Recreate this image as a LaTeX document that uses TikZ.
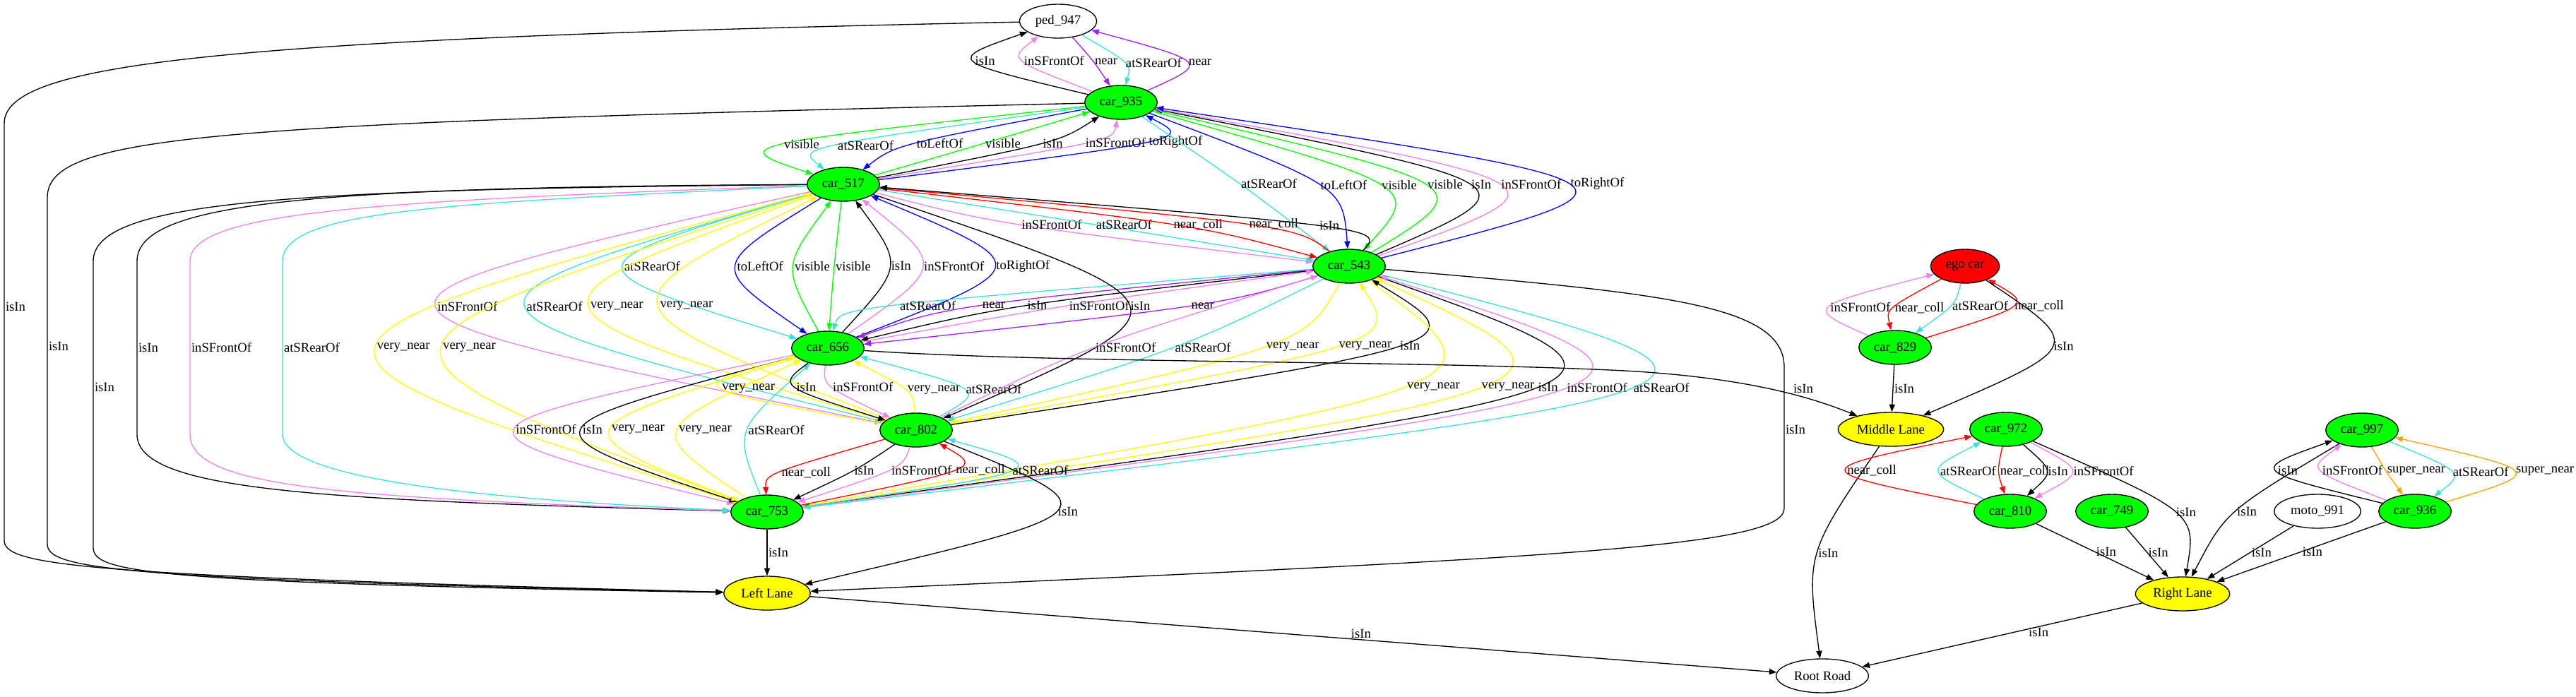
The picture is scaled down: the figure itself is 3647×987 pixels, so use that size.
\documentclass[tikz,border=0pt]{standalone}
\usepackage{fontspec}
\setmainfont{Liberation Serif}
\usetikzlibrary{shapes.geometric,arrows.meta,calc}
\definecolor{gvgreen}{HTML}{00FF00}
\definecolor{gvyellow}{HTML}{FFFF00}
\definecolor{gvturq}{HTML}{40E0D0}
\definecolor{gvviolet}{HTML}{EE82EE}
\definecolor{gvpurple}{HTML}{A020F0}
\definecolor{gvorange}{HTML}{FFA500}
\tikzset{
  obj/.style={ellipse, draw, line width=1pt, minimum height=36pt, inner sep=0pt, font=\fontsize{14}{16}\selectfont},
  car/.style={obj, fill=gvgreen, minimum width=77pt},
  lane/.style={obj, fill=gvyellow, minimum width=#1},
  thing/.style={obj, fill=white, minimum width=#1},
  lbl/.style={font=\fontsize{14}{16}\selectfont, inner sep=1pt},
  relline/.style={line width=1pt, -{Triangle[length=8pt,width=6pt]}},
  eIsIn/.style={relline, draw=black},
  eVis/.style={relline, draw=gvgreen},
  eRear/.style={relline, draw=gvturq},
  eFront/.style={relline, draw=gvviolet},
  eLeft/.style={relline, draw=blue},
  eRight/.style={relline, draw=blue},
  eNear/.style={relline, draw=gvpurple},
  eColl/.style={relline, draw=red},
  eVNear/.style={relline, draw=gvyellow},
  eSNear/.style={relline, draw=gvorange}
}
% style, from, to, x y of the label's left edge, label
\newcommand{\rel}[6]{%
  \coordinate (ta) at ($(#2)!32pt!(#4,#5)$);
  \coordinate (tb) at ($(#3)!32pt!(#4,#5)$);
  \draw[#1] (#2) .. controls ($1.3333*(#4,#5)-0.16667*(ta)-0.16667*(tb)$) .. node[lbl, pos=.5, anchor=west]{#6} (#3);
}
\begin{document}
\begin{tikzpicture}[x=0.75pt, y=-0.75pt]
  \useasboundingbox (0,0) rectangle (3647,987);
  % nodes
  \node[thing=82pt] (ped947) at (1498,30) {ped\_947};
  \node[car] (car935) at (1587,145) {car\_935};
  \node[car] (car517) at (1194,261) {car\_517};
  \node[car] (car543) at (1910,377) {car\_543};
  \node[car] (car656) at (1172,493) {car\_656};
  \node[car] (car802) at (1297,609) {car\_802};
  \node[car] (car753) at (1086,725) {car\_753};
  \node[lane=92pt] (leftlane) at (1086,840) {Left Lane};
  \node[obj, fill=red, minimum width=73pt] (egocar) at (2782,377) {ego car};
  \node[car] (car829) at (2683,492) {car\_829};
  \node[lane=112pt] (midlane) at (2677,608) {Middle Lane};
  \node[car] (car972) at (2840,608) {car\_972};
  \node[car] (car810) at (2846,724) {car\_810};
  \node[car] (car749) at (2990,724) {car\_749};
  \node[thing=92pt] (moto991) at (3281,724) {moto\_991};
  \node[car] (car936) at (3419,724) {car\_936};
  \node[car] (car997) at (3344,609) {car\_997};
  \node[lane=100pt] (rightlane) at (3090,841) {Right Lane};
  \node[thing=98pt] (rootroad) at (2580,957) {Root Road};

  % ped_947 and car_935
  \rel{eIsIn}{car935}{ped947}{1380}{87}{isIn}
  \rel{eFront}{car935}{ped947}{1448}{87}{inSFrontOf}
  \rel{eNear}{ped947}{car935}{1548}{87}{near}
  \rel{eRear}{ped947}{car935}{1592}{87}{atSRearOf}
  \rel{eNear}{car935}{ped947}{1680}{87}{near}
  % car_935 and car_517
  \rel{eVis}{car935}{car517}{1110}{203}{visible}
  \rel{eRear}{car935}{car517}{1188}{203}{atSRearOf}
  \rel{eLeft}{car935}{car517}{1298}{203}{toLeftOf}
  \rel{eVis}{car517}{car935}{1393}{203}{visible}
  \rel{eIsIn}{car517}{car935}{1473}{203}{isIn}
  \rel{eFront}{car517}{car935}{1531}{203}{inSFrontOf}
  \rel{eRight}{car517}{car935}{1622}{203}{toRightOf}
  % car_935 and car_543
  \rel{eRear}{car935}{car543}{1755}{260}{atSRearOf}
  \rel{eLeft}{car935}{car543}{1866}{260}{toLeftOf}
  \rel{eVis}{car935}{car543}{1953}{260}{visible}
  \rel{eVis}{car543}{car935}{2018}{260}{visible}
  \rel{eIsIn}{car543}{car935}{2080}{260}{isIn}
  \rel{eFront}{car543}{car935}{2122}{260}{inSFrontOf}
  \rel{eRight}{car543}{car935}{2220}{260}{toRightOf}
  % car_517 and car_543
  \rel{eFront}{car517}{car543}{1445}{318}{inSFrontOf}
  \rel{eRear}{car517}{car543}{1550}{318}{atSRearOf}
  \rel{eColl}{car517}{car543}{1659}{318}{near\_coll}
  \rel{eColl}{car543}{car517}{1764}{318}{near\_coll}
  \rel{eIsIn}{car543}{car517}{1859}{318}{isIn}
  % car_517 and car_656
  \rel{eRear}{car517}{car656}{883}{377}{atSRearOf}
  \rel{eLeft}{car517}{car656}{1041}{377}{toLeftOf}
  \rel{eVis}{car656}{car517}{1122}{377}{visible}
  \rel{eVis}{car517}{car656}{1181}{377}{visible}
  \rel{eIsIn}{car656}{car517}{1261}{377}{isIn}
  \rel{eFront}{car656}{car517}{1307}{377}{inSFrontOf}
  \rel{eRight}{car656}{car517}{1408}{377}{toRightOf}
  % car_543 and car_656
  \rel{eRear}{car543}{car656}{1277}{433}{atSRearOf}
  \rel{eNear}{car543}{car656}{1390}{433}{near}
  \rel{eIsIn}{car543}{car656}{1453}{433}{isIn}
  \rel{eFront}{car656}{car543}{1512}{433}{inSFrontOf}
  \rel{eIsIn}{car517}{car802}{1598}{433}{isIn}
  \rel{eNear}{car543}{car656}{1684}{433}{near}
  % car_517 and car_802
  \rel{eFront}{car517}{car802}{619}{434}{inSFrontOf}
  \rel{eRear}{car517}{car802}{745}{434}{atSRearOf}
  \rel{eVNear}{car517}{car802}{835}{434}{very\_near}
  \rel{eVNear}{car802}{car517}{933}{434}{very\_near}
  % long edges on the left
  \draw[eIsIn] (ped947) .. controls (300,55) and (6,90) .. (6,175) -- node[lbl, pos=.44, right]{isIn} (6,765) .. controls (6,800) and (100,815) .. (leftlane);
  \draw[eIsIn] (car935) .. controls (300,175) and (67,190) .. (67,280) -- node[lbl, pos=.43, right]{isIn} (67,770) .. controls (67,805) and (150,820) .. (leftlane);
  \draw[eIsIn] (car517) .. controls (400,268) and (132,285) .. (132,370) -- node[lbl, pos=.44, right]{isIn} (132,775) .. controls (132,810) and (200,825) .. (leftlane);
  \draw[eIsIn] (car517) .. controls (450,265) and (194,285) .. (194,370) -- node[lbl, pos=.5, right]{isIn} (194,615) .. controls (194,695) and (450,708) .. (car753);
  \draw[eFront] (car517) .. controls (520,285) and (269,300) .. (269,370) -- node[lbl, pos=.5, right]{inSFrontOf} (269,615) .. controls (269,690) and (480,705) .. (car753);
  \draw[eRear] (car517) .. controls (650,288) and (400,295) .. (400,370) -- node[lbl, pos=.5, right]{atSRearOf} (400,615) .. controls (400,680) and (700,708) .. (car753);
  \rel{eVNear}{car517}{car753}{533}{492}{very\_near}
  \rel{eVNear}{car753}{car517}{626}{492}{very\_near}
  % car_656 and car_753
  \rel{eFront}{car656}{car753}{730}{608}{inSFrontOf}
  \rel{eIsIn}{car656}{car753}{824}{608}{isIn}
  \rel{eVNear}{car656}{car753}{865}{608}{very\_near}
  \rel{eVNear}{car753}{car656}{959}{608}{very\_near}
  \rel{eRear}{car753}{car656}{1057}{608}{atSRearOf}
  % car_656 and car_802
  \rel{eVNear}{car802}{car656}{1022}{550}{very\_near}
  \rel{eIsIn}{car656}{car802}{1126}{550}{isIn}
  \rel{eFront}{car656}{car802}{1178}{550}{inSFrontOf}
  \rel{eVNear}{car802}{car656}{1282}{550}{very\_near}
  \rel{eRear}{car802}{car656}{1365}{550}{atSRearOf}
  % car_543 and car_802
  \rel{eFront}{car802}{car543}{1550}{492}{inSFrontOf}
  \rel{eRear}{car543}{car802}{1661}{492}{atSRearOf}
  \rel{eVNear}{car543}{car802}{1788}{492}{very\_near}
  \rel{eVNear}{car802}{car543}{1890}{492}{very\_near}
  \rel{eIsIn}{car802}{car543}{1978}{492}{isIn}
  % car_543 and car_753
  \rel{eVNear}{car543}{car753}{1988}{550}{very\_near}
  \rel{eVNear}{car753}{car543}{2094}{550}{very\_near}
  \rel{eIsIn}{car543}{car753}{2174}{550}{isIn}
  \rel{eFront}{car753}{car543}{2215}{550}{inSFrontOf}
  \rel{eRear}{car543}{car753}{2309}{550}{atSRearOf}
  % car_802 and car_753
  \rel{eColl}{car802}{car753}{1107}{667}{near\_coll}
  \rel{eIsIn}{car802}{car753}{1207}{667}{isIn}
  \rel{eFront}{car802}{car753}{1258}{667}{inSFrontOf}
  \rel{eColl}{car753}{car802}{1350}{667}{near\_coll}
  \rel{eRear}{car753}{car802}{1430}{667}{atSRearOf}
  % lanes and road
  \draw[eIsIn] (car753) -- node[lbl, right]{isIn} (leftlane);
  \rel{eIsIn}{car802}{leftlane}{1494}{725}{isIn}
  \draw[eIsIn] (car543) .. controls (2350,415) and (2526,430) .. (2526,520) -- node[lbl, pos=.44, right]{isIn} (2526,720) .. controls (2526,775) and (2200,790) .. (leftlane);
  \draw[eIsIn] (car656) .. controls (1500,515) and (2000,510) .. (2300,525) .. controls (2480,535) and (2570,565) .. (midlane) node[lbl] at (2553,550) {isIn};
  \draw[eIsIn] (leftlane) -- node[lbl, pos=.57, above]{isIn} (rootroad);
  \rel{eIsIn}{midlane}{rootroad}{2572}{783}{isIn}
  \draw[eIsIn] (rightlane) -- node[lbl, pos=.37, below]{isIn} (rootroad);
  % ego car
  \rel{eFront}{car829}{egocar}{2590}{434}{inSFrontOf}
  \rel{eColl}{egocar}{car829}{2681}{434}{near\_coll}
  \rel{eRear}{egocar}{car829}{2762}{434}{atSRearOf}
  \rel{eColl}{car829}{egocar}{2850}{434}{near\_coll}
  \rel{eIsIn}{egocar}{midlane}{2905}{492}{isIn}
  \draw[eIsIn] (car829) -- node[lbl, right]{isIn} (midlane);
  % right lane group
  \rel{eColl}{car810}{car972}{2615}{666}{near\_coll}
  \rel{eRear}{car810}{car972}{2745}{667}{atSRearOf}
  \rel{eColl}{car972}{car810}{2829}{667}{near\_coll}
  \rel{eIsIn}{car972}{car810}{2899}{667}{isIn}
  \rel{eFront}{car972}{car810}{2934}{667}{inSFrontOf}
  \rel{eIsIn}{car972}{rightlane}{3078}{723}{isIn}
  \rel{eIsIn}{car997}{rightlane}{3166}{723}{isIn}
  \rel{eIsIn}{car936}{car997}{3224}{667}{isIn}
  \rel{eFront}{car936}{car997}{3286}{667}{inSFrontOf}
  \rel{eSNear}{car997}{car936}{3378}{667}{super\_near}
  \rel{eRear}{car997}{car936}{3471}{667}{atSRearOf}
  \rel{eSNear}{car936}{car997}{3559}{667}{super\_near}
  \draw[eIsIn] (car810) -- node[lbl, right]{isIn} (rightlane);
  \draw[eIsIn] (car749) -- node[lbl, right]{isIn} (rightlane);
  \draw[eIsIn] (moto991) -- node[lbl, right]{isIn} (rightlane);
  \draw[eIsIn] (car936) -- node[lbl, right]{isIn} (rightlane);
\end{tikzpicture}
\end{document}
